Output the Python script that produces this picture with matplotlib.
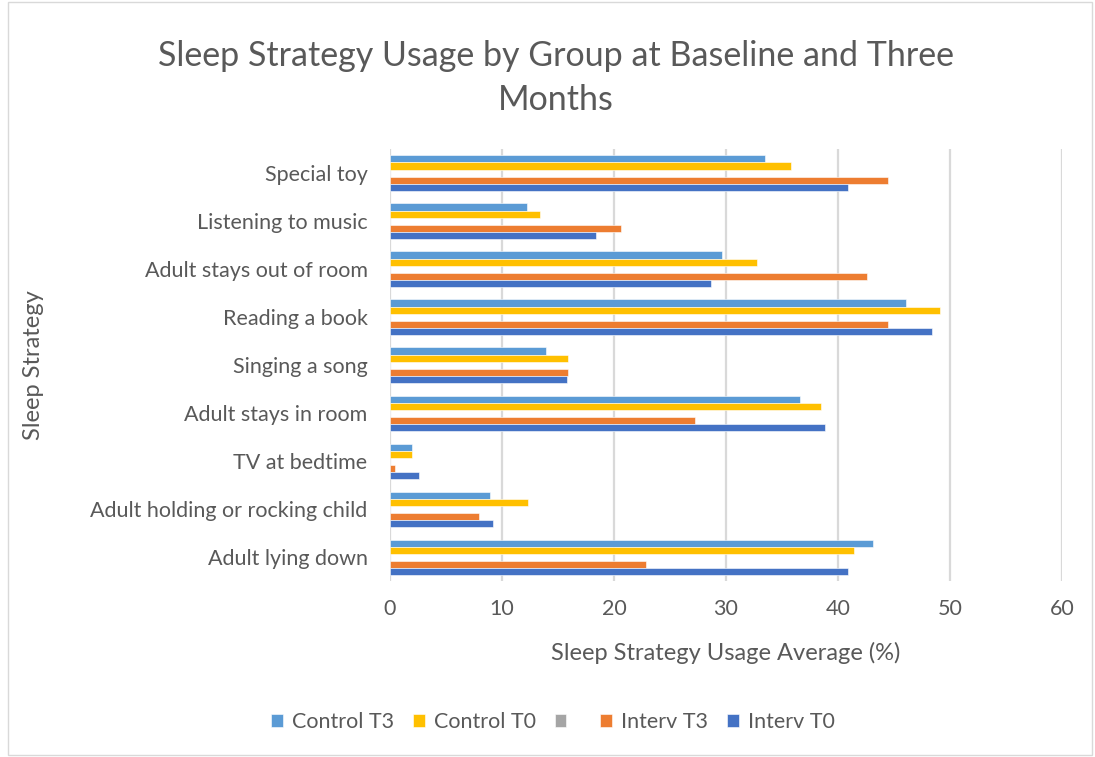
import matplotlib.pyplot as plt
import matplotlib.patches as mpatches
import numpy as np

plt.rcParams['font.family'] = ['Lato', 'DejaVu Sans']

# categories listed bottom to top
strategies = ['Adult lying down', 'Adult holding or rocking child', 'TV at bedtime',
              'Adult stays in room', 'Singing a song', 'Reading a book',
              'Adult stays out of room', 'Listening to music', 'Special toy']

control_t3 = [43.1, 8.9, 2.0, 36.6, 13.9, 46.1, 29.6, 12.2, 33.5]
control_t0 = [41.4, 12.3, 2.0, 38.5, 15.9, 49.1, 32.8, 13.4, 35.8]
blank = [0, 0, 0, 0, 0, 0, 0, 0, 0]
interv_t3 = [22.9, 8.0, 0.5, 27.2, 15.9, 44.5, 42.6, 20.6, 44.5]
interv_t0 = [40.9, 9.2, 2.6, 38.8, 15.8, 48.4, 28.7, 18.4, 40.9]

series = [('Control T3', control_t3, '#5B9BD5'),
          ('Control T0', control_t0, '#FFC000'),
          (' ', blank, '#A5A5A5'),
          ('Interv T3', interv_t3, '#ED7D31'),
          ('Interv T0', interv_t0, '#4472C4')]

txt = '#595959'
fig = plt.figure(figsize=(10.95, 7.57), dpi=100)
ax = fig.add_axes([0.356, 0.232, 0.614, 0.571])

y = np.arange(len(strategies))
h = 0.148
for i, (name, vals, col) in enumerate(series):
    ax.barh(y + (2 - i) * h, vals, height=h, color=col, label=name,
            edgecolor='white', linewidth=0.4, zorder=3)

ax.set_xlim(0, 60)
ax.set_ylim(-0.5, len(strategies) - 0.5)
ax.set_xticks(range(0, 61, 10))
ax.set_yticks(y)
ax.set_yticklabels(strategies)
ax.tick_params(axis='both', length=0, labelsize=15.5, colors=txt)
ax.tick_params(axis='x', pad=13)
ax.tick_params(axis='y', pad=16)
ax.grid(axis='x', color='#d9d9d9', linewidth=1.6, zorder=0)
for s in ax.spines.values():
    s.set_visible(False)

ax.set_xlabel('Sleep Strategy Usage Average (%)', fontsize=17, color=txt, labelpad=16)
ax.set_ylabel('Sleep Strategy', fontsize=17, color=txt)
ax.yaxis.set_label_coords(-0.515, 0.5)

fig.suptitle('Sleep Strategy Usage by Group at Baseline and Three\nMonths',
             x=0.508, y=0.947, fontsize=24.5, color=txt, linespacing=1.45)

leg = fig.legend(loc='center', bbox_to_anchor=(0.505, 0.046), ncol=5, frameon=False,
                 fontsize=15.5, handlelength=0.55, handleheight=0.55,
                 handletextpad=0.45, columnspacing=0.85)
for t in leg.get_texts():
    t.set_color(txt)

fig.patches.append(mpatches.Rectangle((0.007, 0.003), 0.99, 0.994, transform=fig.transFigure,
                                      fill=False, edgecolor='#d9d9d9', linewidth=1))

fig.savefig('out.png', dpi=100)
